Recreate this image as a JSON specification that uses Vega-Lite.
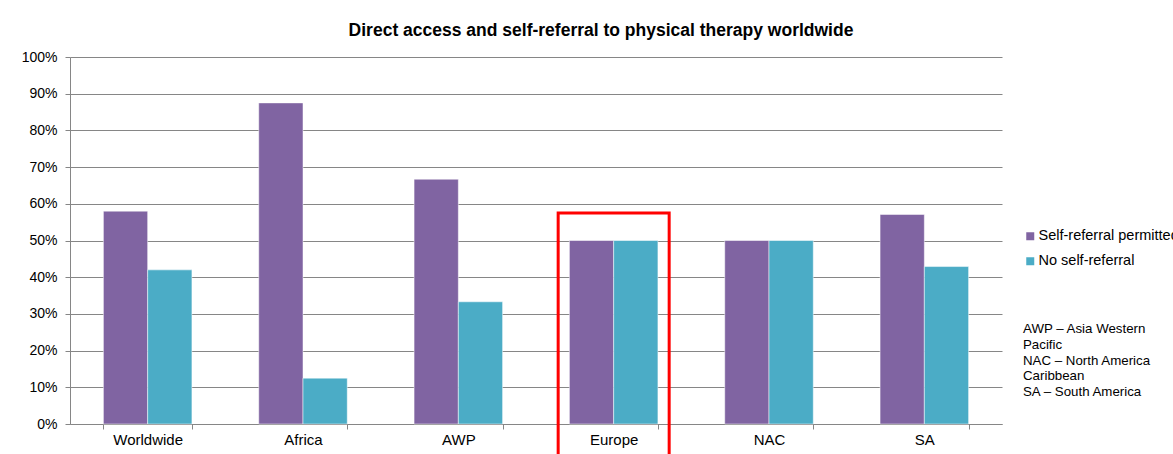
{
  "$schema": "https://vega.github.io/schema/vega-lite/v6.json",
  "width": 932,
  "height": 367,
  "autosize": {"type": "none"},
  "padding": {"left": 70, "top": 57, "right": 171, "bottom": 30},
  "background": "white",
  "title": {
    "text": "Direct access and self-referral to physical therapy worldwide",
    "fontSize": 17.5,
    "font": "Liberation Sans",
    "fontWeight": "bold",
    "color": "black",
    "anchor": "middle",
    "dx": 65,
    "offset": 11
  },
  "config": {"view": {"stroke": null}, "font": "Liberation Sans"},
  "datasets": {
    "bars": [
      {"region": "Worldwide", "series": "Self-referral permitted", "value": 0.58},
      {"region": "Worldwide", "series": "No self-referral", "value": 0.42},
      {"region": "Africa", "series": "Self-referral permitted", "value": 0.875},
      {"region": "Africa", "series": "No self-referral", "value": 0.125},
      {"region": "AWP", "series": "Self-referral permitted", "value": 0.667},
      {"region": "AWP", "series": "No self-referral", "value": 0.333},
      {"region": "Europe", "series": "Self-referral permitted", "value": 0.5},
      {"region": "Europe", "series": "No self-referral", "value": 0.5},
      {"region": "NAC", "series": "Self-referral permitted", "value": 0.5},
      {"region": "NAC", "series": "No self-referral", "value": 0.5},
      {"region": "SA", "series": "Self-referral permitted", "value": 0.571},
      {"region": "SA", "series": "No self-referral", "value": 0.429}
    ],
    "highlight": [
      {"region": "Europe", "top": 0.575, "bottom": -0.12}
    ]
  },
  "layer": [
    {
      "data": {"name": "bars"},
      "mark": {"type": "bar", "stroke": "#ffffff", "strokeWidth": 0.5},
      "encoding": {
        "x": {
          "field": "region",
          "type": "nominal",
          "sort": ["Worldwide", "Africa", "AWP", "Europe", "NAC", "SA"],
          "scale": {"paddingInner": 0.43, "paddingOuter": 0.215},
          "axis": {
            "title": null,
            "labelAngle": 0,
            "labelFontSize": 15,
            "labelColor": "black",
            "labelPadding": 3,
            "tickBand": "extent",
            "tickSize": 5,
            "tickColor": "#868686",
            "domainColor": "#868686",
            "grid": false
          }
        },
        "xOffset": {
          "field": "series",
          "type": "nominal",
          "sort": ["Self-referral permitted", "No self-referral"]
        },
        "y": {
          "field": "value",
          "type": "quantitative",
          "scale": {"domain": [0, 1], "nice": false},
          "axis": {
            "title": null,
            "tickCount": 10,
            "labelOverlap": false,
            "format": ".0%",
            "labelFontSize": 14,
            "labelColor": "black",
            "labelPadding": 8,
            "tickSize": 5,
            "tickColor": "#868686",
            "domainColor": "#868686",
            "gridColor": "#868686",
            "gridOpacity": 1
          }
        },
        "color": {
          "field": "series",
          "type": "nominal",
          "sort": ["Self-referral permitted", "No self-referral"],
          "scale": {
            "domain": ["Self-referral permitted", "No self-referral"],
            "range": ["#8064A2", "#4BACC6"]
          },
          "legend": {
            "orient": "none",
            "legendX": 953,
            "legendY": 172,
            "padding": 0,
            "symbolType": "square",
            "symbolSize": 64,
            "symbolStrokeWidth": 0,
            "labelFontSize": 14.5,
            "labelColor": "black",
            "labelLimit": 0,
            "labelOffset": 1,
            "rowPadding": 10,
            "title": ["AWP – Asia Western", "Pacific", "NAC – North America", "Caribbean", "SA – South America"],
            "titleOrient": "bottom",
            "titleAnchor": "start",
            "titleFontWeight": "normal",
            "titleFontSize": 13.3,
            "titleLineHeight": 15.8,
            "titleColor": "black",
            "titlePadding": 54,
            "titleLimit": 300
          }
        }
      }
    },
    {
      "data": {"name": "highlight"},
      "mark": {"type": "bar", "filled": false, "stroke": "#ff0000", "strokeWidth": 3, "width": 111, "clip": false},
      "encoding": {
        "x": {
          "field": "region",
          "type": "nominal",
          "sort": ["Worldwide", "Africa", "AWP", "Europe", "NAC", "SA"]
        },
        "y": {"field": "top", "type": "quantitative"},
        "y2": {"field": "bottom"}
      }
    }
  ]
}
